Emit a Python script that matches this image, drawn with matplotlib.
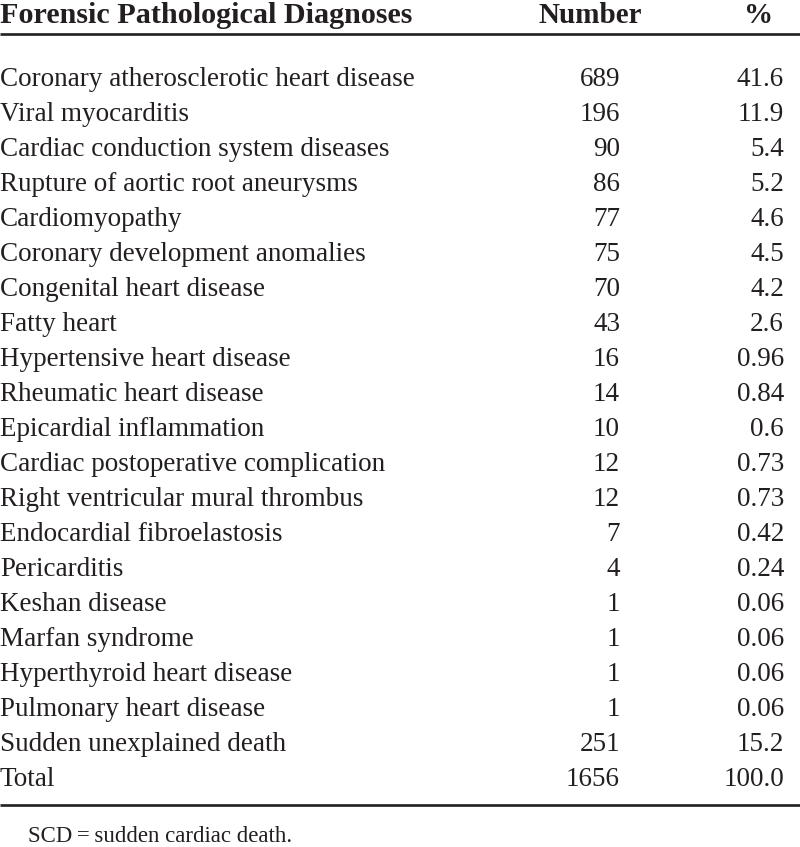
import matplotlib.pyplot as plt

plt.rcParams['font.family'] = ['Liberation Serif', 'DejaVu Serif']

diagnoses = [
    "Coronary atherosclerotic heart disease",
    "Viral myocarditis",
    "Cardiac conduction system diseases",
    "Rupture of aortic root aneurysms",
    "Cardiomyopathy",
    "Coronary development anomalies",
    "Congenital heart disease",
    "Fatty heart",
    "Hypertensive heart disease",
    "Rheumatic heart disease",
    "Epicardial inflammation",
    "Cardiac postoperative complication",
    "Right ventricular mural thrombus",
    "Endocardial fibroelastosis",
    "Pericarditis",
    "Keshan disease",
    "Marfan syndrome",
    "Hyperthyroid heart disease",
    "Pulmonary heart disease",
    "Sudden unexplained death",
    "Total",
]
numbers = ["689", "196", "90", "86", "77", "75", "70", "43", "16", "14", "10",
           "12", "12", "7", "4", "1", "1", "1", "1", "251", "1656"]
percents = ["41.6", "11.9", "5.4", "5.2", "4.6", "4.5", "4.2", "2.6", "0.96",
            "0.84", "0.6", "0.73", "0.73", "0.42", "0.24", "0.06", "0.06",
            "0.06", "0.06", "15.2", "100.0"]
headers = ["Forensic Pathological Diagnoses", "Number", "%"]
footnote = "SCD\u2009=\u2009sudden cardiac death."

W, H = 800, 847
ink = "#231f20"
fig = plt.figure(figsize=(W / 100, H / 100), dpi=100)
ax = fig.add_axes([0, 0, 1, 1])
ax.set_xlim(0, W)
ax.set_ylim(H, 0)
ax.axis("off")

fs = 19.5
# header row
ax.text(0, 23, headers[0], fontsize=21.7, fontweight="bold", va="baseline",
        ha="left", color=ink)
ax.text(642, 23, headers[1], fontsize=21, fontweight="bold", va="baseline",
        ha="right", color=ink)
ax.text(759, 23, headers[2], fontsize=21, fontweight="bold", va="baseline",
        ha="center", color=ink)
ax.plot([0, W], [34.5, 34.5], color=ink, lw=1.9, solid_capstyle="butt")

# body rows, baseline spacing 35 px
y0, dy = 86, 35.0
for i, (name, num, pct) in enumerate(zip(diagnoses, numbers, percents)):
    y = y0 + i * dy
    ax.text(0, y, name, fontsize=fs, va="baseline", ha="left", color=ink)
    ax.text(620, y, num, fontsize=fs, va="baseline", ha="right", color=ink)
    ax.text(784, y, pct, fontsize=fs, va="baseline", ha="right", color=ink)

ax.plot([0, W], [805, 805], color=ink, lw=1.9, solid_capstyle="butt")
ax.text(28, 842, footnote, fontsize=16.5, va="baseline", ha="left", color=ink)

fig.savefig("out.png", dpi=100)
